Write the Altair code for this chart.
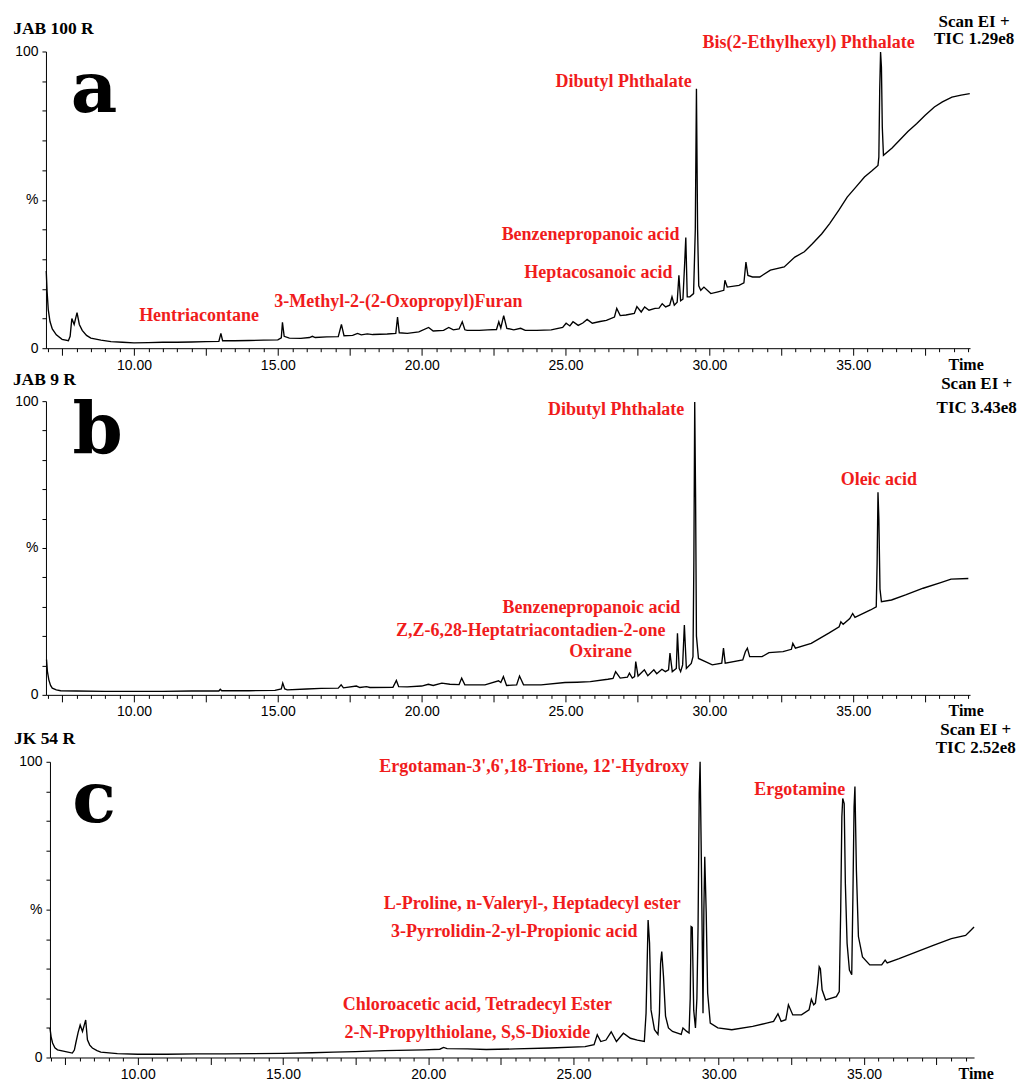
import altair as alt
import pandas as pd

RED = "#f01c1c"
SERIF = "Liberation Serif"
SANS = "Liberation Sans"

# ---------------- Panel a : JAB 100 R ----------------
a_time = [6.95, 6.98, 7.02, 7.08, 7.16, 7.3, 7.5, 7.72, 7.78, 7.84, 7.92, 8.02, 8.1, 8.2, 8.35, 8.5, 8.85,
          9.2, 9.6, 10.0, 10.5, 11.0, 11.5, 12.0, 12.5, 12.95, 13.02, 13.08, 13.5, 14.0, 14.5, 15.0, 15.12,
          15.16, 15.22, 15.4, 15.8, 16.1, 16.2, 16.3, 16.7, 17.1, 17.21, 17.3, 17.6, 17.77, 17.9, 18.11, 18.3,
          18.8, 19.1, 19.16, 19.22, 19.5, 19.9, 20.24, 20.4, 20.76, 20.94, 21.1, 21.3, 21.41, 21.5, 21.58,
          22.0, 22.3, 22.6, 22.68, 22.75, 22.85, 22.96, 23.2, 23.44, 23.6, 24.0, 24.5, 24.9, 25.02, 25.15,
          25.26, 25.44, 25.6, 25.75, 25.93, 26.2, 26.42, 26.7, 26.78, 26.9, 27.1, 27.39, 27.48, 27.63, 27.75,
          27.9, 28.11, 28.25, 28.36, 28.48, 28.62, 28.7, 28.78, 28.88, 28.94, 29.0, 29.08, 29.14, 29.18,
          29.23, 29.32, 29.45, 29.51, 29.55, 29.59, 29.63, 29.7, 29.81, 30.05, 30.3, 30.5, 30.54, 30.62,
          31.03, 31.2, 31.27, 31.34, 31.5, 31.75, 32.12, 32.6, 32.97, 33.3, 33.58, 33.9, 34.18, 34.5, 34.79,
          35.09, 35.39, 35.65, 35.86, 35.89, 35.92, 35.95, 35.98, 36.01, 36.05, 36.35, 36.6, 36.9, 37.21,
          37.5, 37.82, 38.1, 38.43, 38.75, 39.05]
a_pct = [26, 19, 13, 9, 6.5, 4.5, 3, 2.5, 4, 10, 8, 12, 8, 6, 4.3, 3.4, 2.7,
         2.2, 2.0, 1.8, 1.9, 2.0, 2.0, 2.1, 2.2, 2.3, 5, 2.5, 2.5, 2.6, 2.7, 2.8, 3.5,
         8.7, 4, 3.4, 3.3, 3.6, 4, 3.6, 3.8, 3.9, 8, 4.2, 4.3, 5, 4.5, 4.8, 4.6,
         4.8, 5.0, 10.5, 5.2, 5.0, 5.5, 7, 5.8, 6, 7, 6.2, 6.5, 8.9, 6.2, 6,
         6, 6.2, 6.3, 8.9, 6.8, 11, 6.7, 6.2, 6.7, 6.0, 6.0, 6.2, 7.0, 8.4, 7.5,
         8.9, 7.7, 8.5, 9.7, 8.4, 9.0, 9.4, 10.5, 13.4, 11, 11.2, 11.7, 14, 12.2, 13.9,
         12.8, 13.4, 13.5, 15, 13.9, 14.5, 17.3, 14.5, 15.5, 24.6, 16, 16.5, 28.5, 37.3,
         17.3, 17.3, 18.4, 40, 87.4, 40, 21, 19.5, 20.6, 18.4, 19, 19.5, 22.9, 20.6,
         21.2, 22, 29, 24.5, 24, 24, 26.3, 27.4, 30.7, 32.5, 35.2, 38.5, 42, 46.5, 50.9,
         54.3, 57.7, 59.8, 61.6, 64.4, 86.9, 99.8, 94.7, 74.5, 65, 67.5, 70, 73, 75.7,
         78.5, 81.3, 83, 84.6, 85.3, 85.8]

a_red_labels = ["Hentriacontane", "3-Methyl-2-(2-Oxopropyl)Furan", "Benzenepropanoic acid",
                "Heptacosanoic acid", "Dibutyl Phthalate", "Bis(2-Ethylhexyl) Phthalate"]
a_red_t = [12.26, 19.19, 25.87, 26.14, 27.02, 33.45]
a_red_p = [10.8, 15.6, 38.0, 25.2, 89.7, 102.8]
a_info = ["Scan EI +", "TIC 1.29e8"]
a_info_t = [39.2, 39.2]
a_info_p = [110.0, 104.2]
a_title = ["JAB 100 R"]
a_title_t = [5.8]
a_title_p = [107.7]
a_letter = ["a"]
a_letter_t = [8.61]
a_letter_p = [79.5]

# ---------------- Panel b : JAB 9 R ----------------
b_time = [6.96, 6.99, 7.04, 7.1, 7.16, 7.3, 7.45, 8.0, 9.0, 10.0, 11.0, 12.0, 12.95, 13.0, 13.05, 14.0, 14.9,
          15.12, 15.17, 15.24, 15.33, 16.0, 16.5, 17.1, 17.2, 17.28, 17.73, 17.85, 18.08, 18.2, 19.0, 19.12,
          19.2, 19.5, 20.0, 20.23, 20.4, 20.7, 20.98, 21.3, 21.39, 21.5, 22.2, 22.67, 22.75, 22.84, 22.95,
          23.3, 23.4, 23.54, 24.15, 24.98, 25.4, 25.86, 26.47, 26.65, 26.74, 26.9, 27.15, 27.22, 27.32, 27.4,
          27.44, 27.52, 27.74, 27.86, 28.07, 28.17, 28.35, 28.47, 28.58, 28.63, 28.71, 28.85, 28.89, 28.95,
          29.0, 29.07, 29.13, 29.2, 29.37, 29.43, 29.46, 29.49, 29.52, 29.55, 29.62, 29.86, 30.1, 30.43,
          30.49, 30.55, 31.16, 31.25, 31.32, 31.4, 31.83, 32.07, 32.56, 32.85, 32.9, 32.99, 33.54, 34.15,
          34.51, 34.57, 34.65, 34.88, 34.98, 35.06, 35.6, 35.8, 35.83, 35.86, 35.89, 35.93, 35.98, 36.33,
          36.82, 37.43, 38.04, 38.4, 39.0]
b_pct = [12, 8, 5.1, 3.2, 2.3, 1.7, 1.4, 1.3, 1.2, 1.2, 1.2, 1.3, 1.3, 1.9, 1.4, 1.4, 1.5,
         2.0, 4, 2.0, 1.7, 2.0, 2.2, 2.3, 3.4, 2.4, 3.0, 2.5, 2.8, 2.5, 2.6, 4.9,
         2.8, 2.7, 3.0, 3.6, 3.2, 4.0, 3.6, 3.5, 5.7, 3.4, 3.4, 4.8, 4.2, 6.2, 3.2,
         3.4, 6.4, 3.4, 3.4, 4.2, 4.3, 4.5, 5.3, 5.6, 7.9, 5.7, 6.0, 7.4, 5.7, 6.2,
         11.3, 6.4, 8.5, 6.5, 8.5, 7.2, 8.7, 7.9, 8.5, 14.2, 7.9, 9, 21, 9,
         7.9, 10.2, 23.8, 9, 10.7, 13, 45, 99.7, 67.4, 20, 12.4, 11.3, 10.2, 10.8,
         15.9, 10.8, 11.9, 14.7, 15.9, 13, 13, 14.4, 14.7, 15.5, 17.5, 15.9, 17.5, 21,
         23.2, 24.9, 24.0, 26, 27.7, 26.4, 28.9, 30, 45, 69, 60, 36, 31.7, 32.3,
         34, 36.3, 38.2, 39.4, 39.6]

b_red_labels = ["Dibutyl Phthalate", "Oleic acid", "Benzenepropanoic acid",
                "Z,Z-6,28-Heptatriacontadien-2-one", "Oxirane"]
b_red_t = [26.76, 35.89, 25.9, 23.79, 26.22]
b_red_p = [97.1, 73.3, 29.5, 21.9, 14.7]
b_info = ["Scan EI +", "TIC 3.43e8"]
b_info_t = [39.29, 39.29]
b_info_p = [105.7, 97.8]
b_title = ["JAB 9 R"]
b_title_t = [5.79]
b_title_p = [107.3]
b_letter = ["b"]
b_letter_t = [8.74]
b_letter_p = [82.2]

# ---------------- Panel c : JK 54 R ----------------
c_time = [6.98, 7.02, 7.07, 7.15, 7.24, 7.52, 7.75, 7.82, 7.87, 7.95, 8.02, 8.1, 8.21, 8.27, 8.35, 8.44, 8.6,
          8.73, 9.3, 10.0, 11.0, 12.0, 13.0, 14.0, 15.0, 16.0, 16.74, 17.5, 18.5, 19.85, 20.4, 20.53, 20.65,
          21.35, 22.0, 23.0, 24.2, 25.4, 25.71, 25.82, 25.94, 26.12, 26.3, 26.48, 26.72, 26.96, 27.2, 27.44,
          27.5, 27.54, 27.57, 27.62, 27.67, 27.79, 27.91, 27.96, 28.0, 28.04, 28.1, 28.17, 28.27, 28.41,
          28.71, 28.77, 28.89, 28.98, 29.02, 29.05, 29.09, 29.14, 29.2, 29.25, 29.29, 29.33, 29.36, 29.41,
          29.46, 29.49, 29.52, 29.57, 29.62, 29.71, 29.97, 30.45, 31.17, 31.65, 31.89, 32.04, 32.15, 32.31,
          32.4, 32.55, 32.85, 33.11, 33.19, 33.27, 33.33, 33.41, 33.46, 33.5, 33.56, 33.68, 34.05, 34.15,
          34.2, 34.24, 34.27, 34.32, 34.36, 34.42, 34.5, 34.58, 34.62, 34.66, 34.69, 34.74, 34.81, 34.95,
          35.2, 35.61, 35.73, 35.8, 36.21, 36.81, 37.41, 38.01, 38.5, 38.68, 38.79]
c_pct = [10, 7, 4.9, 3.3, 2.6, 2.0, 1.5, 2.5, 4.9, 8.5, 11, 8.8, 12.7, 6, 4.2, 3.2, 2.3,
         1.8, 1.3, 1.1, 1.1, 1.2, 1.2, 1.3, 1.4, 1.6, 1.8, 2.0, 2.3, 2.6, 2.8, 3.4, 3.0,
         2.9, 2.7, 2.9, 3.2, 3.7, 4.3, 7.7, 5.4, 5.9, 8.7, 5.4, 8.2, 6.5, 5.9, 5.4,
         15, 33, 46.5, 38.6, 16.1, 9.4, 7.8, 15, 31.9, 35.8, 27.4, 14, 10, 8.8,
         7.8, 10, 8.9, 8.3, 20, 44.3, 44, 16, 10, 20, 44.3, 89.3, 100, 61,
         15, 49.9, 67.9, 49.2, 21.8, 11.6, 10, 9.4, 10.5, 11.6, 12.2, 14.8, 12.2, 12.8,
         17.8, 14.4, 14.4, 16.1, 19.7, 17.8, 18.4, 25, 30.7, 30, 22.9, 19.5, 20.6, 22.3,
         49.9, 81.4, 87.6, 85.9, 58.9, 38.6, 29.6, 28, 54.4, 84.8, 91.6, 63.4, 40.9, 34,
         31.3, 31.3, 32.9, 32, 33.4, 35.7, 38, 40.2, 41.3, 43, 44.1]

c_red_labels = ["Ergotaman-3',6',18-Trione, 12'-Hydroxy", "Ergotamine",
                "L-Proline, n-Valeryl-, Heptadecyl ester", "3-Pyrrolidin-2-yl-Propionic acid",
                "Chloroacetic acid, Tetradecyl Ester", "2-N-Propylthiolane, S,S-Dioxide"]
c_red_t = [23.65, 32.79, 23.58, 22.96, 21.69, 21.35]
c_red_p = [98.1, 90.4, 51.8, 42.6, 17.8, 8.2]
c_info = ["Scan EI +", "TIC 2.52e8"]
c_info_t = [38.85, 38.85]
c_info_p = [110.6, 104.6]
c_title = ["JK 54 R"]
c_title_t = [5.74]
c_title_p = [107.6]
c_letter = ["c"]
c_letter_t = [8.5]
c_letter_p = [79.7]


def make_panel(times, pcts, red, red_t, red_p, info, info_t, info_p,
               title, title_t, title_p, letter, letter_t, letter_p,
               dom, width, height, xrange, yrange, yoffset, time_x):
    xscale = alt.Scale(domain=dom, nice=False, zero=False, range=xrange)
    yscale = alt.Scale(domain=[0, 100], nice=False, zero=True, range=yrange)
    tick_vals = [7.0 + 0.5 * i for i in range(80) if 7.0 + 0.5 * i <= dom[1]]
    xaxis = alt.Axis(
        values=tick_vals,
        labelExpr="datum.value % 5 == 0 ? format(datum.value, '.2f') : ''",
        tickSize={"condition": {"test": "datum.value % 2.5 == 0", "value": 7}, "value": 3.5},
        labelPadding=3,
        labelFlush=False,
        labelOverlap=False,
        title="Time",
        titleX=time_x,
        titleY=21,
        titleAlign="left",
        titleBaseline="alphabetic",
        titleFont=SERIF,
        titleFontWeight="bold",
        titleFontSize=16,
        titleColor="black",
    )
    yaxis = alt.Axis(
        values=list(range(0, 101, 10)),
        labelExpr="datum.value == 100 ? '100' : datum.value == 50 ? '%' : datum.value == 0 ? '0' : ''",
        tickSize=4,
        labelPadding=4,
        title=None,
        labelOverlap=False,
        labelFlush=False,
        offset=yoffset,
    )
    X = alt.X("t:Q", scale=xscale, axis=xaxis)
    Y = alt.Y("pct:Q", scale=yscale, axis=yaxis)

    line_df = pd.DataFrame({"t": times, "pct": pcts})
    line = alt.Chart(line_df).mark_line(color="black", strokeWidth=1.35).encode(x=X, y=Y)

    def text_layer(ts, ps, labels, **kw):
        df = pd.DataFrame({"t": ts, "pct": ps, "label": labels})
        return alt.Chart(df).mark_text(**kw).encode(x=X, y=Y, text="label:N")

    red_txt = text_layer(red_t, red_p, red, font=SERIF, fontWeight="bold", fontSize=18, color=RED,
                         align="center", baseline="middle")
    info_txt = text_layer(info_t, info_p, info, font=SERIF, fontWeight="bold", fontSize=17,
                          color="black", align="center", baseline="middle")
    title_txt = text_layer(title_t, title_p, title, font=SERIF, fontWeight="bold", fontSize=17.5,
                           color="black", align="left", baseline="middle")
    letter_txt = text_layer(letter_t, letter_p, letter, font="DejaVu Serif", fontWeight="bold",
                            fontSize=72, color="black", align="center", baseline="alphabetic")
    return alt.layer(line, red_txt, info_txt, title_txt, letter_txt).properties(width=width, height=height)


pa = make_panel(a_time, a_pct, a_red_labels, a_red_t, a_red_p, a_info, a_info_t, a_info_p,
                a_title, a_title_t, a_title_p, a_letter, a_letter_t, a_letter_p,
                [6.94, 39.06], 925, 297, [0, 925], [297, 0], 0, 903)
pb = make_panel(b_time, b_pct, b_red_labels, b_red_t, b_red_p, b_info, b_info_t, b_info_p,
                b_title, b_title_t, b_title_p, b_letter, b_letter_t, b_letter_p,
                [6.94, 39.06], 925, 294, [0, 925], [294, 0], 0, 903)
pc = make_panel(c_time, c_pct, c_red_labels, c_red_t, c_red_p, c_info, c_info_t, c_info_p,
                c_title, c_title_t, c_title_p, c_letter, c_letter_t, c_letter_p,
                [6.98, 38.79], 929, 310, [4, 929], [310, 14], -4, 913)

chart = alt.vconcat(pa, pb, pc, spacing=53, bounds="flush").properties(
    padding={"left": 4, "top": 4, "right": 0, "bottom": 0}
).configure_view(stroke=None).configure_axis(
    domainColor="black",
    domainWidth=1,
    tickColor="black",
    tickWidth=1,
    labelFont=SANS,
    labelFontSize=14,
    labelColor="black",
    labelOverlap=False,
    grid=False,
)

chart.save("out.html", embed_options={"renderer": "svg", "actions": False})
